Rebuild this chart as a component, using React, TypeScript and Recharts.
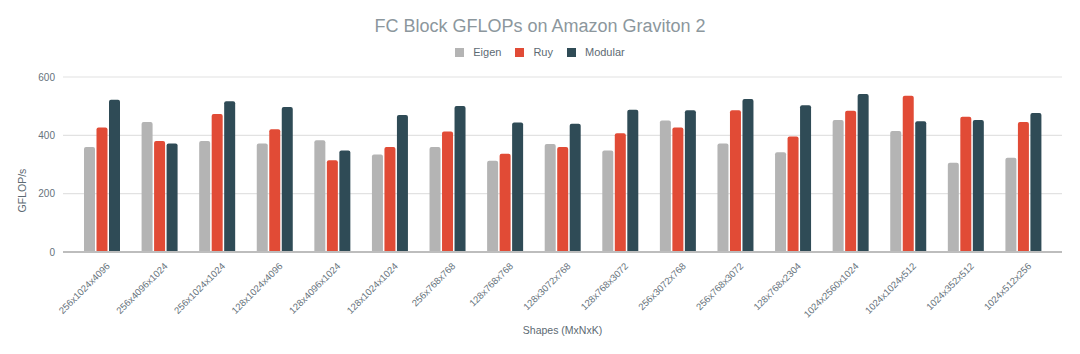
import { BarChart, Bar, XAxis, YAxis, CartesianGrid } from 'recharts'

const shapes = [
  '256x1024x4096', '256x4096x1024', '256x1024x1024', '128x1024x4096', '128x4096x1024',
  '128x1024x1024', '256x768x768', '128x768x768', '128x3072x768', '128x768x3072',
  '256x3072x768', '256x768x3072', '128x768x2304', '1024x2560x1024', '1024x1024x512',
  '1024x352x512', '1024x512x256',
]
const eigen = [360, 446, 381, 372, 383, 334, 360, 313, 370, 348, 451, 372, 342, 453, 415, 306, 323]
const ruy = [427, 381, 473, 421, 315, 360, 413, 337, 360, 407, 427, 486, 396, 484, 536, 464, 446]
const modular = [522, 372, 517, 497, 348, 470, 501, 444, 440, 488, 486, 525, 503, 542, 448, 453, 477]
const yTicks = [0, 200, 400, 600]

const series = [
  { key: 'Eigen', color: '#b4b4b4' },
  { key: 'Ruy', color: '#e14b36' },
  { key: 'Modular', color: '#2f4b56' },
]

const data = shapes.map((s, i) => ({ shape: s, Eigen: eigen[i], Ruy: ruy[i], Modular: modular[i] }))

const font = '"Liberation Sans", Arial, sans-serif'
const tickColor = '#66727b'

export default function App() {
  return (
    <div style={{ position: 'absolute', left: 0, top: 0, width: 1080, height: 354, background: '#fff', fontFamily: font }}>
      <div style={{ position: 'absolute', top: 16, width: 1080, textAlign: 'center', fontSize: 18, color: '#8c979d' }}>
        FC Block GFLOPs on Amazon Graviton 2
      </div>
      {/* legend */}
      <div style={{ position: 'absolute', top: 46, width: 1080, display: 'flex', justifyContent: 'center', gap: 14, fontSize: 11, color: '#5d6a73' }}>
        {series.map(s => (
          <div key={s.key} style={{ display: 'flex', alignItems: 'center', gap: 9 }}>
            <span style={{ width: 9, height: 9, background: s.color, display: 'inline-block' }} />
            <span>{s.key}</span>
          </div>
        ))}
      </div>
      <BarChart width={1080} height={354} data={data} margin={{ top: 77, right: 18, bottom: 0, left: 0 }} barSize={11} barGap={1.5}>
        <CartesianGrid vertical={false} stroke="#e2e2e2" strokeWidth={1.2} />
        <XAxis
          dataKey="shape"
          interval={0}
          height={102}
          padding={{ left: 10, right: 10 }}
          axisLine={{ stroke: '#bdbdbd', strokeWidth: 2 }}
          tickLine={false}
          angle={-45}
          textAnchor="end"
          tick={{ fontSize: 9.5, fill: tickColor, dx: 4, dy: 2 }}
          label={{ value: 'Shapes (MxNxK)', position: 'insideBottom', offset: 20, fontSize: 10.5, fill: '#5d6a73' }}
        />
        <YAxis
          width={63}
          domain={[0, 600]}
          ticks={yTicks}
          axisLine={false}
          tickLine={false}
          tick={{ fontSize: 10, fill: tickColor }}
          label={{ value: 'GFLOP/s', angle: -90, position: 'center', dx: -9, dy: 26, fontSize: 10.5, fill: '#5d6a73' }}
        />
        {series.map(s => (
          <Bar key={s.key} dataKey={s.key} fill={s.color} radius={[2, 2, 0, 0]} isAnimationActive={false} />
        ))}
      </BarChart>
    </div>
  )
}
